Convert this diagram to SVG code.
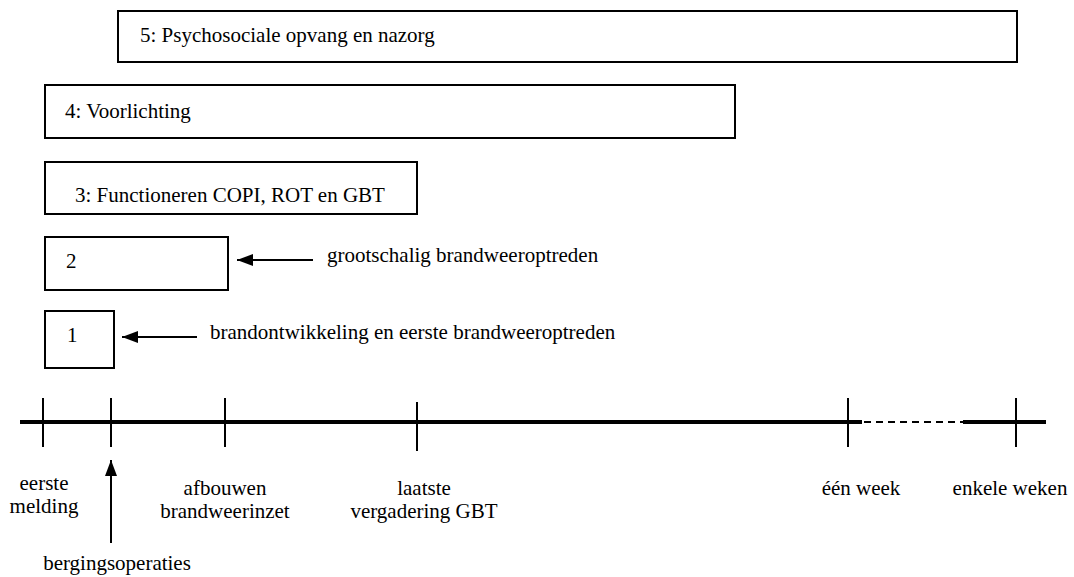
<svg xmlns="http://www.w3.org/2000/svg" width="1074" height="577" viewBox="0 0 1074 577">
<defs>
<style>
.box{fill:#fff;stroke:#000;stroke-width:2}
.t{font-family:"Liberation Serif","DejaVu Serif",serif;font-size:21px;fill:#000}
.m{text-anchor:middle}
.ln{stroke:#000;stroke-width:2;fill:none}
.axis{stroke:#000;stroke-width:4;fill:none}
</style>
<marker id="ah2" viewBox="0 0 16 12" refX="16" refY="6" markerWidth="16" markerHeight="12" markerUnits="userSpaceOnUse" orient="auto">
<path d="M0,0 L16,6 L0,12 z" fill="#000"/>
</marker>
</defs>
<rect width="1074" height="577" fill="#fff"/>
<g id="node5"><rect class="box" x="118" y="11" width="899" height="51"/><text class="t" x="140" y="42">5: Psychosociale opvang en nazorg</text></g>
<g id="node4"><rect class="box" x="45" y="85" width="690" height="53"/><text class="t" x="65" y="118">4: Voorlichting</text></g>
<g id="node3"><rect class="box" x="45" y="162" width="372" height="52"/><text class="t" x="75" y="202">3: Functioneren COPI, ROT en GBT</text></g>
<g id="node2"><rect class="box" x="45" y="237" width="183" height="53"/><text class="t" x="66" y="268">2</text></g>
<g id="node1"><rect class="box" x="45" y="311" width="69" height="57"/><text class="t" x="67" y="342">1</text></g>
<g id="connectors">
<line class="ln" x1="313" y1="260" x2="237" y2="260" marker-end="url(#ah2)"/>
<line class="ln" x1="197" y1="337" x2="122" y2="337" marker-end="url(#ah2)"/>
<line class="ln" x1="111" y1="543" x2="111" y2="460" marker-end="url(#ah2)"/>
</g>
<g id="timeline">
<line class="axis" x1="20" y1="422" x2="862" y2="422"/>
<line stroke="#000" stroke-width="2" stroke-dasharray="7,5" x1="864" y1="422" x2="963" y2="422"/>
<line class="axis" x1="963" y1="422" x2="1046" y2="422"/>
<line class="ln" x1="43" y1="398" x2="43" y2="447"/>
<line class="ln" x1="111" y1="398" x2="111" y2="447"/>
<line class="ln" x1="225" y1="398" x2="225" y2="447"/>
<line class="ln" x1="417" y1="402" x2="417" y2="451"/>
<line class="ln" x1="848" y1="398" x2="848" y2="447"/>
<line class="ln" x1="1016" y1="398" x2="1016" y2="447"/>
</g>
<g id="labels">
<text class="t" x="327" y="262">grootschalig brandweeroptreden</text>
<text class="t" x="210" y="339">brandontwikkeling en eerste brandweeroptreden</text>
<text class="t m" x="44" y="490">eerste</text>
<text class="t m" x="44" y="513">melding</text>
<text class="t m" x="225" y="495">afbouwen</text>
<text class="t m" x="225" y="518">brandweerinzet</text>
<text class="t m" x="424" y="495">laatste</text>
<text class="t m" x="424" y="518">vergadering GBT</text>
<text class="t m" x="861" y="495">één week</text>
<text class="t m" x="1010" y="495">enkele weken</text>
<text class="t m" x="117" y="570">bergingsoperaties</text>
</g>
</svg>
